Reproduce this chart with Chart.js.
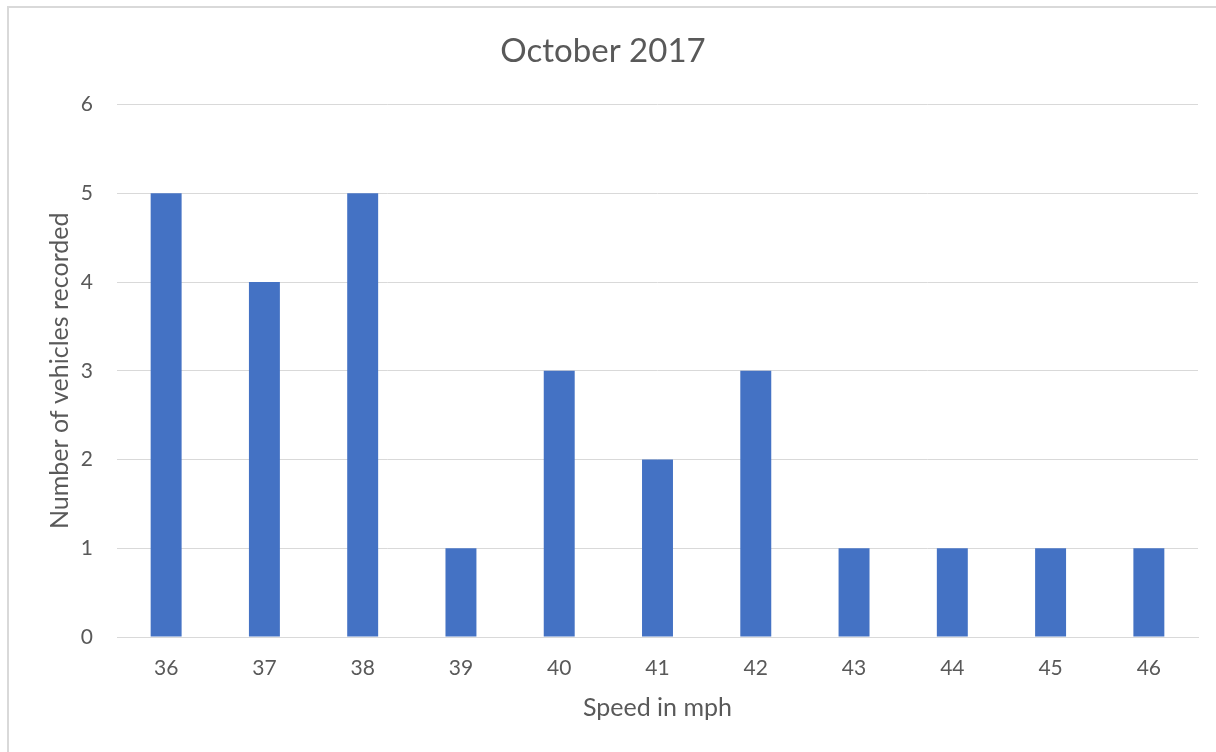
<!DOCTYPE html>
<html>
<head>
<meta charset="utf-8">
<title>October 2017</title>
<script src="https://cdn.jsdelivr.net/npm/chart.js@4"></script>
<style>
  html, body { margin: 0; padding: 0; background: #fff; overflow: hidden; }
  #frame {
    position: absolute; left: 7px; top: 6px; width: 1300px; height: 800px;
    border-left: 2px solid #d9d9d9; border-top: 2px solid #d9d9d9;
  }
  #wrap { position: absolute; left: 0; top: 0; width: 1216px; height: 752px; }
</style>
</head>
<body>
<div id="frame"></div>
<div id="wrap"><canvas id="speedChart"></canvas></div>
<script>
// Data
const speeds = ['36', '37', '38', '39', '40', '41', '42', '43', '44', '45', '46'];
const vehicleCounts = [5, 4, 5, 1, 3, 2, 3, 1, 1, 1, 1];
const yTicks = [0, 1, 2, 3, 4, 5, 6];

const textColor = '#595959';
const gridColor = '#d9d9d9';
const fontName = 'Lato';

const ctx = document.getElementById('speedChart').getContext('2d');
new Chart(ctx, {
  type: 'bar',
  data: {
    labels: speeds,
    datasets: [{
      label: 'Number of vehicles recorded',
      data: vehicleCounts,
      backgroundColor: '#4472c4',
      borderWidth: 0,
      barPercentage: 0.315,
      categoryPercentage: 1
    }]
  },
  options: {
    responsive: true,
    maintainAspectRatio: false,
    animation: false,
    layout: { padding: { left: 8, right: 18, top: 0, bottom: 14 } },
    plugins: {
      legend: { display: false },
      tooltip: { enabled: false },
      title: {
        display: true,
        text: 'October 2017',
        color: textColor,
        font: { family: fontName, size: 33, weight: 'normal' },
        padding: { top: 32, bottom: 33 }
      }
    },
    scales: {
      x: {
        grid: { display: false, drawTicks: false },
        border: { display: true, color: gridColor, width: 1 },
        ticks: { color: textColor, padding: 19, font: { family: fontName, size: 21 }, maxRotation: 0 },
        title: {
          display: true,
          text: 'Speed in mph',
          color: textColor,
          font: { family: fontName, size: 25 },
          padding: { top: 6, bottom: 15 }
        },
        afterFit: (scale) => { scale.height = 752 - 14 - 637; }
      },
      y: {
        min: 0,
        max: yTicks[yTicks.length - 1],
        afterBuildTicks: (scale) => { scale.ticks = yTicks.map(v => ({ value: v })); },
        grid: { color: gridColor, lineWidth: 1, drawTicks: false },
        border: { display: false },
        ticks: { color: textColor, padding: 24, font: { family: fontName, size: 21 } },
        title: {
          display: true,
          text: 'Number of vehicles recorded',
          color: textColor,
          font: { family: fontName, size: 25 },
          padding: { top: 37, bottom: 0 }
        },
        afterFit: (scale) => { scale.width = 117 - 8; }
      }
    }
  }
});
</script>
</body>
</html>
